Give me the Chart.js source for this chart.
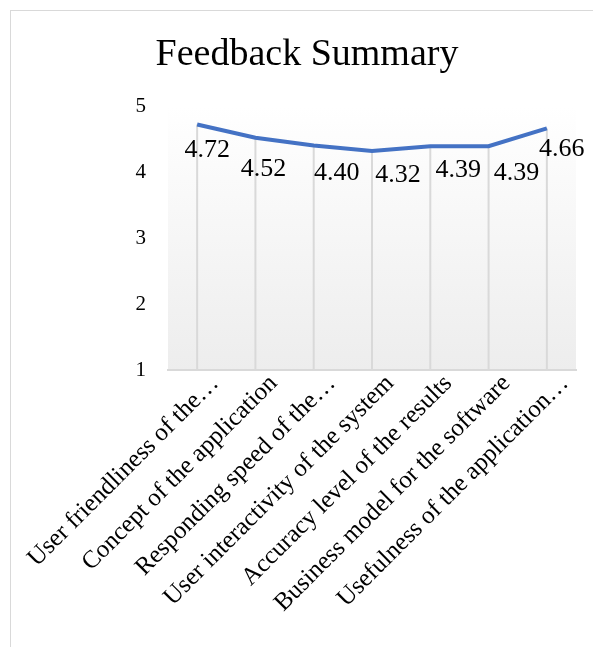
<!DOCTYPE html>
<html>
<head>
<meta charset="utf-8">
<script src="https://cdn.jsdelivr.net/npm/chart.js@4.4.1/dist/chart.umd.min.js"></script>
<style>
  html, body { margin: 0; padding: 0; background: #fff; overflow: hidden; }
  .frame {
    position: absolute; left: 10px; top: 10px; width: 700px; height: 700px;
    border-left: 1px solid #d9d9d9; border-top: 1px solid #d9d9d9;
  }
  .wrap { position: absolute; left: 0; top: 0; width: 593px; height: 647px; }
</style>
</head>
<body>
<div class="frame"></div>
<div class="wrap"><canvas id="myChart" width="593" height="647"></canvas></div>
<script>
const categories = [
  'User friendliness of the\u2026',
  'Concept of the application',
  'Responding speed of the\u2026',
  'User interactivity of the system',
  'Accuracy level of the results',
  'Business model for the software',
  'Usefulness of the application\u2026'
];
const scores = [4.72, 4.52, 4.40, 4.32, 4.39, 4.39, 4.66];
const yTicks = [1, 2, 3, 4, 5];
const chartTitle = 'Feedback Summary';

const serif = "'Liberation Serif', 'Times New Roman', serif";

// title sits a bit right of the canvas centre, like the original
const titleText = {
  id: 'titleText',
  afterDraw(chart) {
    const { ctx } = chart;
    ctx.save();
    ctx.font = '38px ' + serif;
    ctx.fillStyle = '#000';
    ctx.textAlign = 'center';
    ctx.textBaseline = 'alphabetic';
    ctx.fillText(chartTitle, 307, 65);
    ctx.restore();
  }
};

// soft gray gradient behind the plot
const plotBackground = {
  id: 'plotBackground',
  beforeDraw(chart) {
    const { ctx, chartArea: a } = chart;
    const g = ctx.createLinearGradient(0, a.top, 0, a.bottom);
    g.addColorStop(0, '#ffffff');
    g.addColorStop(1, '#ededed');
    ctx.save();
    ctx.fillStyle = g;
    ctx.fillRect(a.left, a.top, a.right - a.left, a.bottom - a.top);
    ctx.restore();
  }
};

// drop lines from each point down to the axis
const dropLines = {
  id: 'dropLines',
  beforeDatasetsDraw(chart) {
    const { ctx, chartArea: a } = chart;
    const pts = chart.getDatasetMeta(0).data;
    ctx.save();
    ctx.strokeStyle = '#d9d9d9';
    ctx.lineWidth = 2;
    pts.forEach(p => {
      ctx.beginPath();
      ctx.moveTo(p.x, p.y);
      ctx.lineTo(p.x, a.bottom);
      ctx.stroke();
    });
    ctx.restore();
  }
};

// value labels under the points (hand-placed like the original)
const labelShiftX = [10, 8, 23, 26, 28, 28, 15];
const labelShiftY = [26, 31, 28, 24, 24, 27, 21];
const valueLabels = {
  id: 'valueLabels',
  afterDatasetsDraw(chart) {
    const { ctx } = chart;
    const ds = chart.data.datasets[0];
    const pts = chart.getDatasetMeta(0).data;
    ctx.save();
    ctx.font = '26px ' + serif;
    ctx.fillStyle = '#000';
    ctx.textAlign = 'center';
    ctx.textBaseline = 'middle';
    pts.forEach((p, i) => {
      ctx.fillText(ds.data[i].toFixed(2), p.x + labelShiftX[i], p.y + labelShiftY[i]);
    });
    ctx.restore();
  }
};

new Chart(document.getElementById('myChart').getContext('2d'), {
  type: 'line',
  data: {
    labels: categories,
    datasets: [{
      data: scores,
      borderColor: '#4472C4',
      borderWidth: 4,
      pointRadius: 0,
      tension: 0,
      fill: false
    }]
  },
  options: {
    responsive: false,
    animation: false,
    layout: { padding: { left: 0, right: 17, top: 106, bottom: 0 } },
    plugins: {
      legend: { display: false },
      tooltip: { enabled: false },
      title: { display: false }
    },
    scales: {
      x: {
        offset: true,
        grid: { display: false },
        border: { display: true, color: '#d9d9d9', width: 2 },
        ticks: {
          color: '#000',
          font: { family: serif, size: 25 },
          minRotation: 45,
          maxRotation: 45,
          autoSkip: false,
          labelOffset: 18,
          padding: -9
        },
        afterFit(scale) { scale.height = 277; }
      },
      y: {
        min: 1,
        max: 5,
        grid: { display: false, drawTicks: false },
        border: { display: false },
        afterBuildTicks(scale) { scale.ticks = yTicks.map(v => ({ value: v })); },
        ticks: {
          color: '#000',
          font: { family: serif, size: 21 },
          padding: 22
        },
        afterFit(scale) { scale.width = 168; }
      }
    }
  },
  plugins: [plotBackground, dropLines, valueLabels, titleText]
});
</script>
</body>
</html>
